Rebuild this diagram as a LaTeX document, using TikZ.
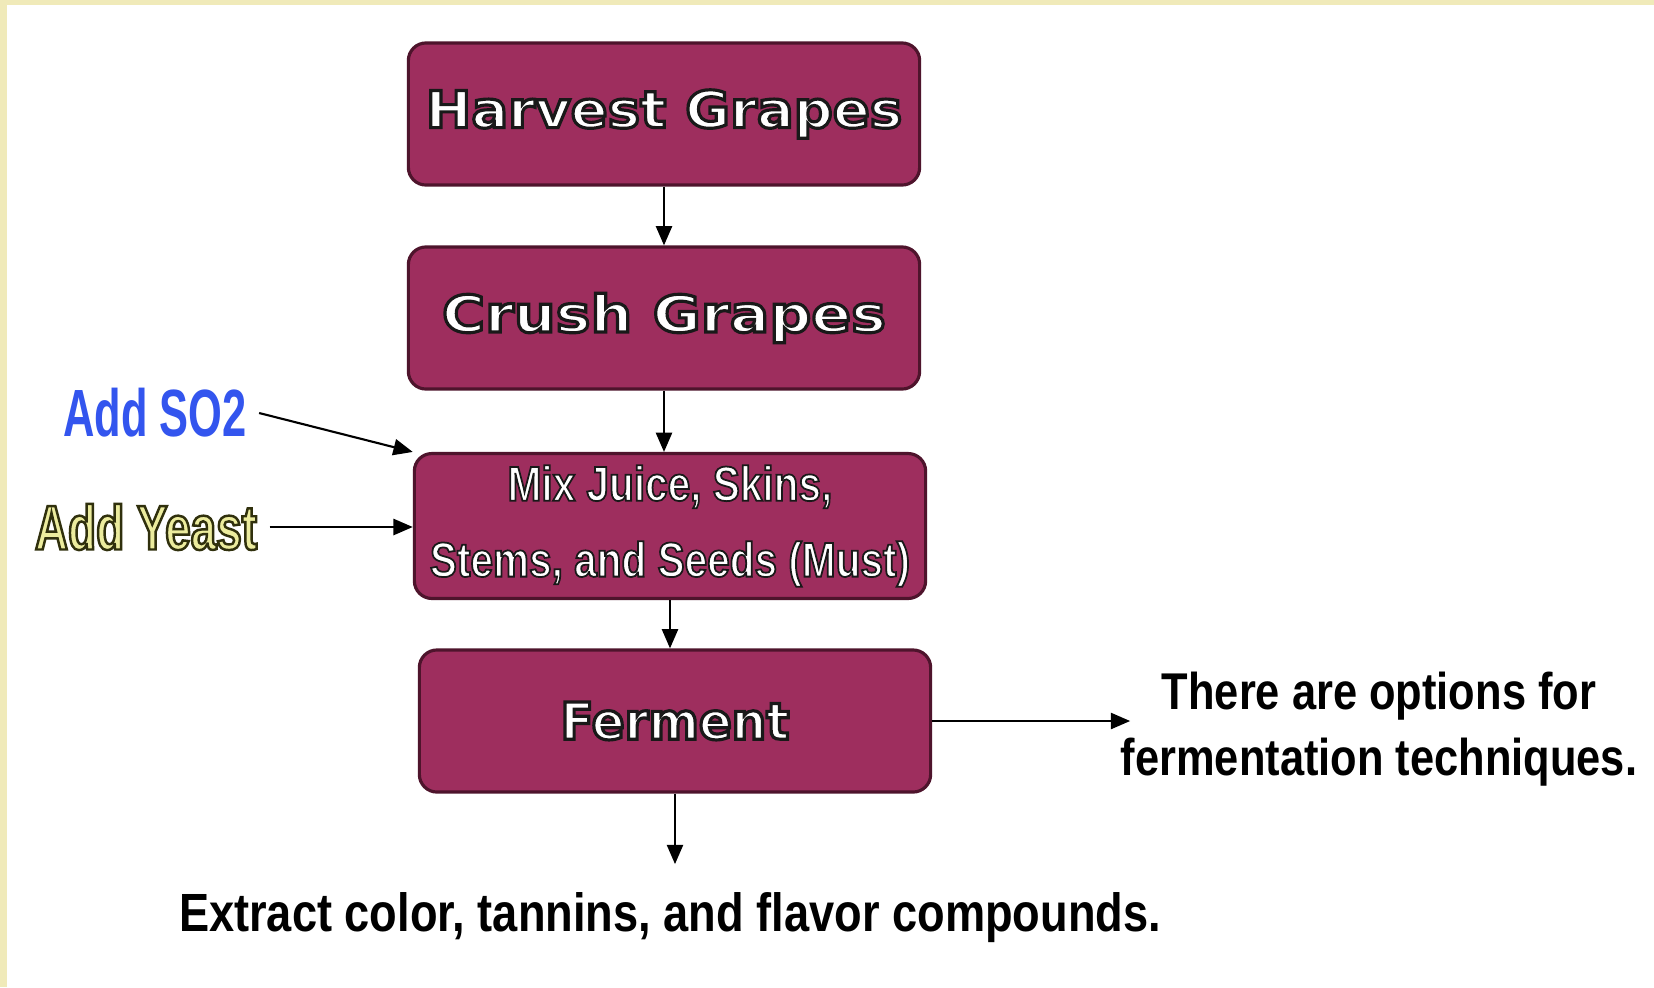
\documentclass[tikz,border=0pt]{standalone}
\usepackage{fontspec}
\usepackage{xcolor}
\usepackage{tikz}
\usetikzlibrary{arrows.meta,positioning,calc}

\newfontfamily\boxfont[FakeStretch=1.07]{DejaVu Sans}
\newfontfamily\crushfont[FakeStretch=1.15]{DejaVu Sans}
\newfontfamily\fermentfont[FakeStretch=0.95]{DejaVu Sans}
\newfontfamily\mixfont[FakeStretch=0.83]{Liberation Sans}
\newfontfamily\narrowfont[FakeStretch=0.84]{Liberation Sans}
\newfontfamily\sofont[FakeStretch=0.65]{Liberation Sans}
\newfontfamily\yeastfont[FakeStretch=0.73]{Liberation Sans}

\definecolor{wine}{RGB}{158,46,94}
\definecolor{wineedge}{RGB}{78,20,44}
\definecolor{parchment}{RGB}{240,234,185}
\definecolor{soblue}{RGB}{51,85,238}
\definecolor{yeastfill}{RGB}{236,236,158}

% letters filled in #1, rimmed by a #2 wide stroke of colour #3 (rgb numbers)
\newcommand{\rimmed}[4]{{\color{#1}\special{pdf:literal direct 2 Tr #2 w #3 RG}#4\special{pdf:literal direct 0 Tr}}}

\begin{document}
\begin{tikzpicture}[x=0.01cm, y=-0.01cm,
          process/.style={rectangle, rounded corners=5pt, draw=wineedge, line width=0.9pt, fill=wine, minimum width=5.11cm, minimum height=1.42cm},
          title/.style={font=\bfseries\fontsize{14.5}{17}\selectfont},
          flow/.style={draw=black, line width=0.6pt, -{Triangle[length=5.5pt,width=4.6pt]}}
        ]
          % page and the parchment edge
          \useasboundingbox (0,0) rectangle (1654,987);
          \fill[parchment] (0,0) rectangle (1654,987);
          \fill[white] (7,5) rectangle (1654,987);

          \node[process, title] (harvest) at (664,114) {\boxfont\raisebox{-1pt}{\rimmed{white}{0.9}{0.1 0.1 0.1}{Harvest Grapes}}};
          \node[process, title] (crush) at (664,318) {\crushfont\rimmed{white}{0.9}{0.1 0.1 0.1}{Crush Grapes}};
          \node[process, align=center, font=\mixfont\bfseries\fontsize{13.9}{21.6}\selectfont] (must) at (670,526)
            {\rimmed{white}{0.5}{0.1 0.1 0.1}{Mix Juice, Skins,}\\\rimmed{white}{0.5}{0.1 0.1 0.1}{Stems, and Seeds (Must)}};
          \node[process, title] (ferment) at (675,721) {\fermentfont\rimmed{white}{0.9}{0.1 0.1 0.1}{Ferment}};

          \node[font=\sofont\bfseries\fontsize{19}{22}\selectfont, text=soblue] (so2) at (155,413) {Add SO2};
          \node[font=\yeastfont\bfseries\fontsize{17.9}{21}\selectfont] (yeast) at (146,527) {\rimmed{yeastfill}{0.7}{0.19 0.19 0.05}{Add Yeast}};

          \node[font=\narrowfont\bfseries\fontsize{14.7}{18.8}\selectfont, align=center, inner sep=0pt] (options) at (1379,729)
            {There are options for\\fermentation techniques.};
          \node[font=\narrowfont\bfseries\fontsize{15.3}{18}\selectfont, inner sep=8pt] (extract) at (670,918)
            {Extract color, tannins, and flavor compounds.};

          % main line
          \draw[flow] (harvest.south) -- (harvest.south |- crush.north);
          \draw[flow] (crush.south) -- (crush.south |- must.north);
          \draw[flow] (must.south) -- (must.south |- ferment.north);
          \draw[flow] (ferment.south) -- (ferment.south |- extract.north);
          \draw[flow, shorten >=-0.1cm] (ferment.east) -- (ferment.east -| options.west);

          % additions
          \draw[flow] (so2.east) -- (must.north west);
          \draw[flow] (yeast.east) -- (yeast.east -| must.west);

        \end{tikzpicture}
\end{document}
